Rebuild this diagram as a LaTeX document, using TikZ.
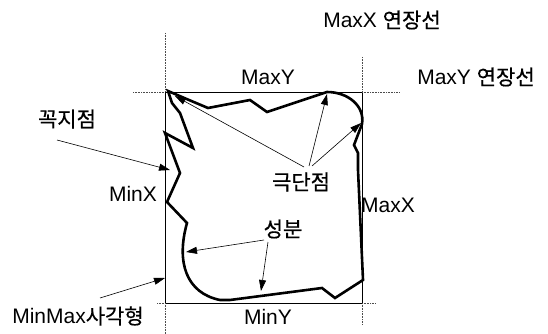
\documentclass[tikz,border=0pt]{standalone}
\usepackage{fontspec}
\setmainfont{Liberation Sans}
\newfontfamily\kr[FakeBold=0.6]{Noto Sans CJK KR}
\usetikzlibrary{arrows.meta}
\begin{document}
\begin{tikzpicture}[x=1pt,y=-1pt,
  lbl/.style={inner sep=0pt,font=\fontsize{21}{24}\selectfont},
  ext/.style={densely dotted,line width=0.6pt,black!70},
  box/.style={line width=0.8pt},
  outline/.style={line width=2.6pt,line join=miter},
  ptr/.style={line width=0.6pt,-{Triangle[length=11pt,width=7pt]}}]
\useasboundingbox (0,0) rectangle (548,334);
% MinMax rectangle
\draw[box] (165,92) rectangle (362,303);
% extension lines
\draw[ext] (165,33) -- (165,92);
\draw[ext] (165,303) -- (165,334);
\draw[ext] (362,57) -- (362,92);
\draw[ext] (362,303) -- (362,325);
\draw[ext] (133,92) -- (165,92);
\draw[ext] (362,92) -- (400,92);
\draw[ext] (157,303) -- (165,303);
\draw[ext] (362,303) -- (376,303);
% component outline
\draw[outline] (168,91) -- (189,100) -- (208,108) -- (250,100) -- (267,112) -- (327,92)
  .. controls (348,92) and (365,106) .. (362,124)
  -- (354,145) -- (358,153) -- (358,170) -- (363,280) -- (335,298) -- (322,288)
  -- (230,300) -- (220,300)
  .. controls (186,293) and (176,262) .. (187,223)
  -- (167,202) -- (180,173) -- (165,133) -- (193,148) -- (180,113) -- (172,103) -- cycle;
% labels
\node[lbl] (mxext) at (382,20) {MaxX {\kr 연장선}};
\node[lbl] (myext) at (476,77) {MaxY {\kr 연장선}};
\node[lbl] (maxy) at (268,77) {MaxY};
\node[lbl] (vtx) at (67,119) {\kr 꼭지점};
\node[lbl] (ext) at (301,182) {\kr 극단점};
\node[lbl] (minx) at (133,194) {MinX};
\node[lbl] (maxx) at (388,205) {MaxX};
\node[lbl] (comp) at (283,229) {\kr 성분};
\node[lbl] (mmr) at (78,316) {MinMax{\kr 사각형}};
\node[lbl] (miny) at (268,317) {MinY};
% arrow endpoints
\coordinate (e1) at (304,167);
\coordinate (e2) at (309,166);
\coordinate (e3) at (312,166);
\coordinate (t1) at (175,96);
\coordinate (t2) at (327,94);
\coordinate (t3) at (361,123);
\coordinate (v0) at (57,140);
\coordinate (v1) at (170,170);
\coordinate (m0) at (100,298);
\coordinate (m1) at (165,278);
\coordinate (c0) at (264,240);
\coordinate (c1) at (186,252);
\coordinate (c2) at (268,242);
\coordinate (c3) at (261,291);
\draw[ptr] (e1) -- (t1);
\draw[ptr] (e2) -- (t2);
\draw[ptr] (e3) -- (t3);
\draw[ptr] (v0) -- (v1);
\draw[ptr] (m0) -- (m1);
\draw[ptr] (c0) -- (c1);
\draw[ptr] (c2) -- (c3);
\end{tikzpicture}
\end{document}
